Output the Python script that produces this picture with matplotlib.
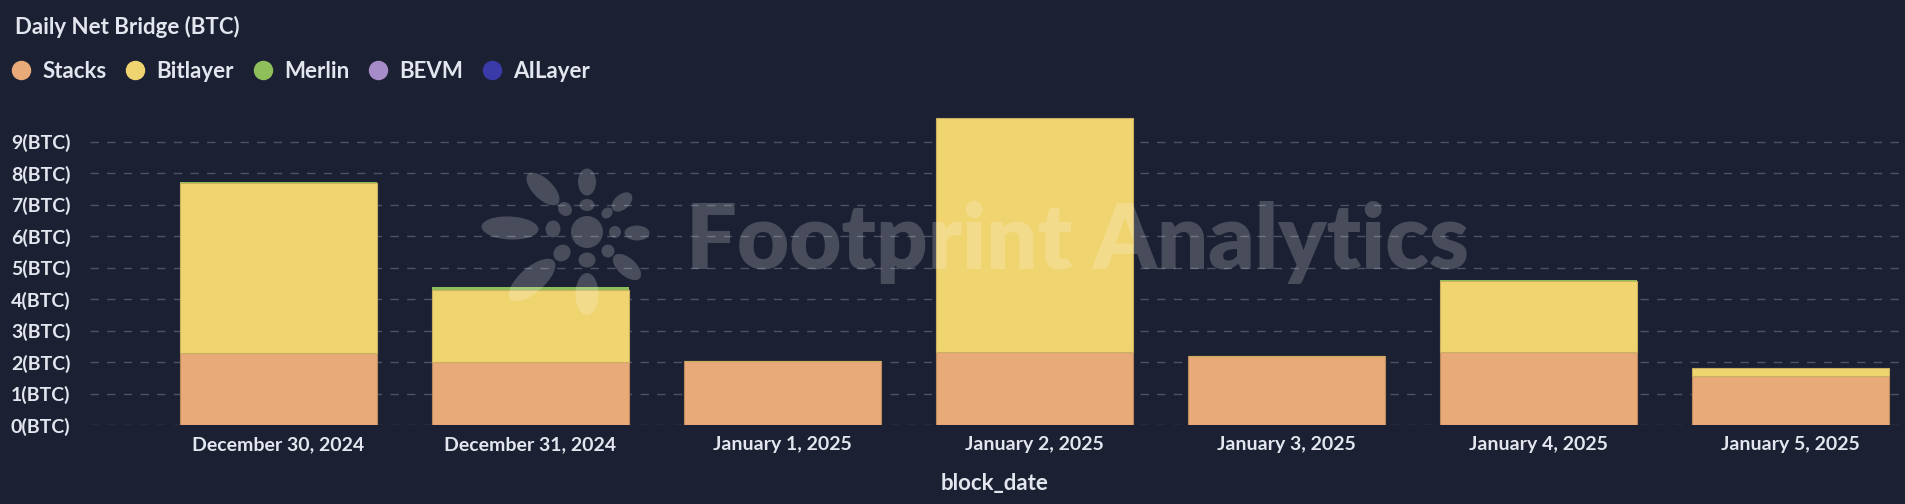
import matplotlib
matplotlib.use("Agg")
import numpy as np
from matplotlib import pyplot as plt
from matplotlib.lines import Line2D
from matplotlib.patches import Ellipse

dates = ["December 30, 2024", "December 31, 2024", "January 1, 2025", "January 2, 2025",
         "January 3, 2025", "January 4, 2025", "January 5, 2025"]
stacks = [2.28, 1.99, 2.04, 2.31, 2.19, 2.32, 1.56]
bitlayer = [5.40, 2.30, 0.0, 7.45, 0.0, 2.25, 0.24]
merlin = [0.04, 0.09, 0.0, 0.0, 0.0, 0.04, 0.0]
bevm = [0.0, 0.0, 0.0, 0.0, 0.0, 0.0, 0.0]
ailayer = [0.0, 0.0, 0.0, 0.0, 0.0, 0.0, 0.0]
yticks = list(range(10))

series = [("Stacks", stacks, "#e8aa78", "#b98a5e", 0.8),
          ("Bitlayer", bitlayer, "#f0d470", "#c8b060", 0.8),
          ("Merlin", merlin, "#8fbf5a", "#8fbf5a", 0),
          ("BEVM", bevm, "#a68cc8", "#a68cc8", 0),
          ("AILayer", ailayer, "#3a3aa8", "#3a3aa8", 0)]

bg = "#1b2033"
fg = "#e3e6ee"
plt.rcParams["font.family"] = ["Lato", "DejaVu Sans"]

fig = plt.figure(figsize=(19.05, 5.04), dpi=100, facecolor=bg)
ax = fig.add_axes([90 / 1905, 79 / 504, 1810 / 1905, 315 / 504])
ax.set_facecolor(bg)

x = np.arange(len(dates))
bottom = np.zeros(len(dates))
for name, vals, col, edge, lw in series:
    vals = np.array(vals)
    ax.bar(x, vals, width=0.78, bottom=bottom, color=col, edgecolor=edge,
           linewidth=lw, zorder=3, label=name)
    bottom += vals

ax.set_xlim(-0.748, 6.434)
ax.set_ylim(0, 10)
ax.set_yticks(yticks)
ax.set_yticklabels(["{}(BTC)".format(t) for t in yticks])
ax.set_xticks(x)
ax.set_xticklabels(dates)
ax.tick_params(axis="y", length=0, pad=14, labelsize=14, labelcolor=fg)
ax.tick_params(axis="x", length=0, pad=8, labelsize=14, labelcolor=fg)
for lab in ax.get_xticklabels() + ax.get_yticklabels():
    lab.set_fontweight("bold")
ax.grid(axis="y", color="#4d5366", linestyle=(0, (6, 6)), linewidth=1, zorder=0)
for s in ax.spines.values():
    s.set_visible(False)
ax.set_xlabel("block_date", fontsize=16, fontweight="bold", color=fg, labelpad=14)

# watermark overlay in pixel coordinates (y measured from top)
ov = fig.add_axes([0, 0, 1, 1], zorder=10)
ov.set_xlim(0, 1905)
ov.set_ylim(504, 0)
ov.axis("off")
ov.patch.set_alpha(0)
wm = ov.text(686, 243, "Footprint Analytics", fontsize=58, fontweight="heavy",
             color="white", alpha=0.2, ha="left", va="center")
fig.canvas.draw()
w = wm.get_window_extent().width
wm.set_fontsize(58 * 782 / w)

cx, cy = 587, 232
# x, y, major, minor (major axis points to the logo centre)
blobs = [(587, 182, 27, 18), (587, 205, 12, 15),
         (543, 189, 42, 20), (565, 209, 15, 13),
         (622, 202, 24, 15), (607, 213, 12, 10),
         (510, 228, 57, 23), (553, 229, 15, 17),
         (637, 233, 25, 15), (615, 232, 12, 12),
         (532, 280, 58, 25), (562, 253, 18, 16),
         (587, 294, 42, 23), (587, 260, 15, 17),
         (627, 267, 34, 18), (608, 251, 13, 13)]
for bx, by, maj, mnr in blobs:
    ang = np.degrees(np.arctan2(by - cy, bx - cx))
    ov.add_patch(Ellipse((bx, by), maj, mnr, angle=ang, color="white", alpha=0.2, lw=0))
ov.add_patch(Ellipse((cx, cy), 32, 32, color="white", alpha=0.2, lw=0))

fig.text(15 / 1905, 1 - 27 / 504, "Daily Net Bridge (BTC)", fontsize=16, fontweight="bold",
         color=fg, ha="left", va="center")
handles = [Line2D([], [], marker="o", linestyle="none", markersize=13, color=s[2])
           for s in series]
leg = fig.legend(handles, [s[0] for s in series], loc="center left",
                 bbox_to_anchor=(-10 / 1905, 1 - 71 / 504), ncol=5, frameon=False,
                 handletextpad=0.45, handlelength=1.0, columnspacing=0.8,
                 prop={"size": 16, "weight": "bold"})
for t in leg.get_texts():
    t.set_color(fg)

fig.savefig("out.png", dpi=100, facecolor=bg)
